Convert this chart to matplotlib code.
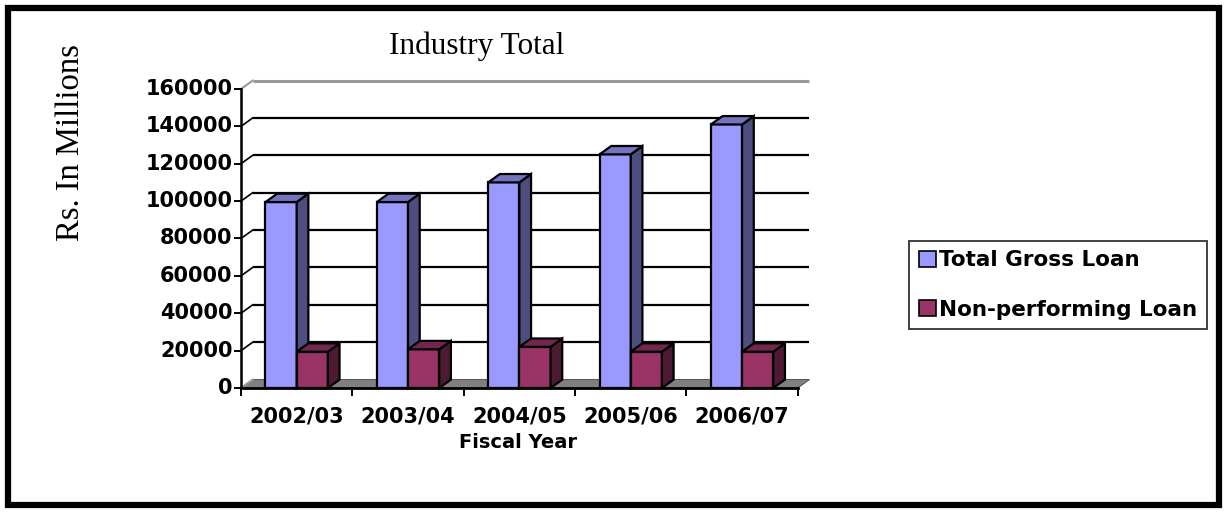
import matplotlib.pyplot as plt
from matplotlib.patches import Polygon, Rectangle, Patch

years = ["2002/03", "2003/04", "2004/05", "2005/06", "2006/07"]
gross_loan = [99500, 99500, 110000, 125000, 141000]
npl_loan = [19400, 20700, 22000, 19400, 19400]
series_names = ["Total Gross Loan", "Non-performing Loan"]
y_ticks = [0, 20000, 40000, 60000, 80000, 100000, 120000, 140000, 160000]

# colours: front, side, top
blue = ("#9999ff", "#4d4d80", "#7373bf")
plum = ("#993366", "#4d1a33", "#732650")

W = 1227
H = 513
fig = plt.figure(figsize=(W / 100, H / 100), dpi=100)

# axes box in pixels (front axis at x=241, floor front at y=388)
left_px, right_px, top_px, bot_px = 241, 810, 80, 388
ax = fig.add_axes([left_px / W, 1 - bot_px / H,
                   (right_px - left_px) / W, (bot_px - top_px) / H])
n = len(years)
ax.set_xlim(0, 5.11)
ax.set_ylim(0, 164800)
ax.axis("off")

# depth of the fake 3d box, in data units
DX = 0.105
DY = 4500
ymax = y_ticks[-1]

# floor
ax.add_patch(Polygon([(0, 0), (n, 0), (n + DX, DY), (DX, DY)], closed=True,
                     facecolor="#808080", edgecolor="#404040", lw=0.6,
                     zorder=1, clip_on=False))

# back gridlines and the diagonal wall connectors
for v in y_ticks[1:-1]:
    ax.plot([DX, n + DX], [v + DY, v + DY], color="black", lw=1.6,
            zorder=1, clip_on=False, solid_capstyle="butt")
    ax.plot([0, DX], [v, v + DY], color="black", lw=1.2, zorder=1, clip_on=False)
ax.plot([DX, n + DX], [ymax + DY, ymax + DY], color="#9a9a9a", lw=2.2,
        zorder=1, clip_on=False, solid_capstyle="butt")
ax.plot([0, DX], [ymax, ymax + DY], color="#9a9a9a", lw=1.5, zorder=1, clip_on=False)
ax.plot([0, DX], [0, DY], color="#9a9a9a", lw=1.5, zorder=1, clip_on=False)


def draw_bar(x0, w, v, cols):
    front, side, top = cols
    ax.add_patch(Rectangle((x0, 0), w, v, facecolor=front, edgecolor="black",
                           lw=1.6, zorder=3, clip_on=False))
    ax.add_patch(Polygon([(x0 + w, 0), (x0 + w + DX, DY), (x0 + w + DX, v + DY),
                          (x0 + w, v)], closed=True, facecolor=side,
                         edgecolor="black", lw=1.6, zorder=3, clip_on=False))
    ax.add_patch(Polygon([(x0, v), (x0 + w, v), (x0 + w + DX, v + DY),
                          (x0 + DX, v + DY)], closed=True, facecolor=top,
                         edgecolor="black", lw=1.6, zorder=3, clip_on=False))


bw = 0.28
for i in range(n):
    start = i + (1 - 2 * bw) / 2
    draw_bar(start, bw, gross_loan[i], blue)
    draw_bar(start + bw, bw, npl_loan[i], plum)

# front axes and ticks
ax.plot([0, 0], [0, ymax], color="black", lw=1.8, zorder=4, clip_on=False)
ax.plot([0, n], [0, 0], color="black", lw=2.0, zorder=4, clip_on=False)
tick_font = dict(family="DejaVu Sans", weight="bold", fontsize=15)
for v in y_ticks:
    ax.plot([-0.05, 0], [v, v], color="black", lw=1.4, zorder=4, clip_on=False)
    ax.text(-0.075, v, str(v), ha="right", va="center", **tick_font)
for i in range(n + 1):
    ax.plot([i, i], [0, -3800], color="black", lw=1.4, zorder=4, clip_on=False)
for i, yr in enumerate(years):
    ax.text(i + 0.5, -15500, yr, ha="center", va="center", **tick_font)

fig.text(518 / W, 1 - 443 / H, "Fiscal Year", ha="center", va="center",
         family="DejaVu Sans", weight="bold", fontsize=14)
fig.text(477 / W, 1 - 46 / H, "Industry Total", ha="center", va="center",
         family="Liberation Serif", fontsize=22.5)
fig.text(71 / W, 1 - 143 / H, "Rs. In Millions", ha="center", va="center",
         rotation=90, family="Liberation Serif", fontsize=23.5)

handles = [Patch(facecolor=blue[0], edgecolor="black", lw=1.2),
           Patch(facecolor=plum[0], edgecolor="black", lw=1.2)]
leg = fig.legend(handles, series_names, loc="center",
                 bbox_to_anchor=(1058 / W, 1 - 285 / H),
                 prop=dict(family="DejaVu Sans", weight="bold", size=15.5),
                 handlelength=0.8, handleheight=0.8, handletextpad=0.12,
                 labelspacing=1.35, borderpad=0.45, borderaxespad=0,
                 fancybox=False, frameon=True)
leg.get_frame().set_edgecolor("black")
leg.get_frame().set_linewidth(1.3)

# outer frame
fig.add_artist(Rectangle((8 / W, 8 / H), (W - 16) / W, (H - 16) / H,
                         transform=fig.transFigure, fill=False,
                         edgecolor="black", lw=4.5))

fig.savefig("out.png", dpi=100)
